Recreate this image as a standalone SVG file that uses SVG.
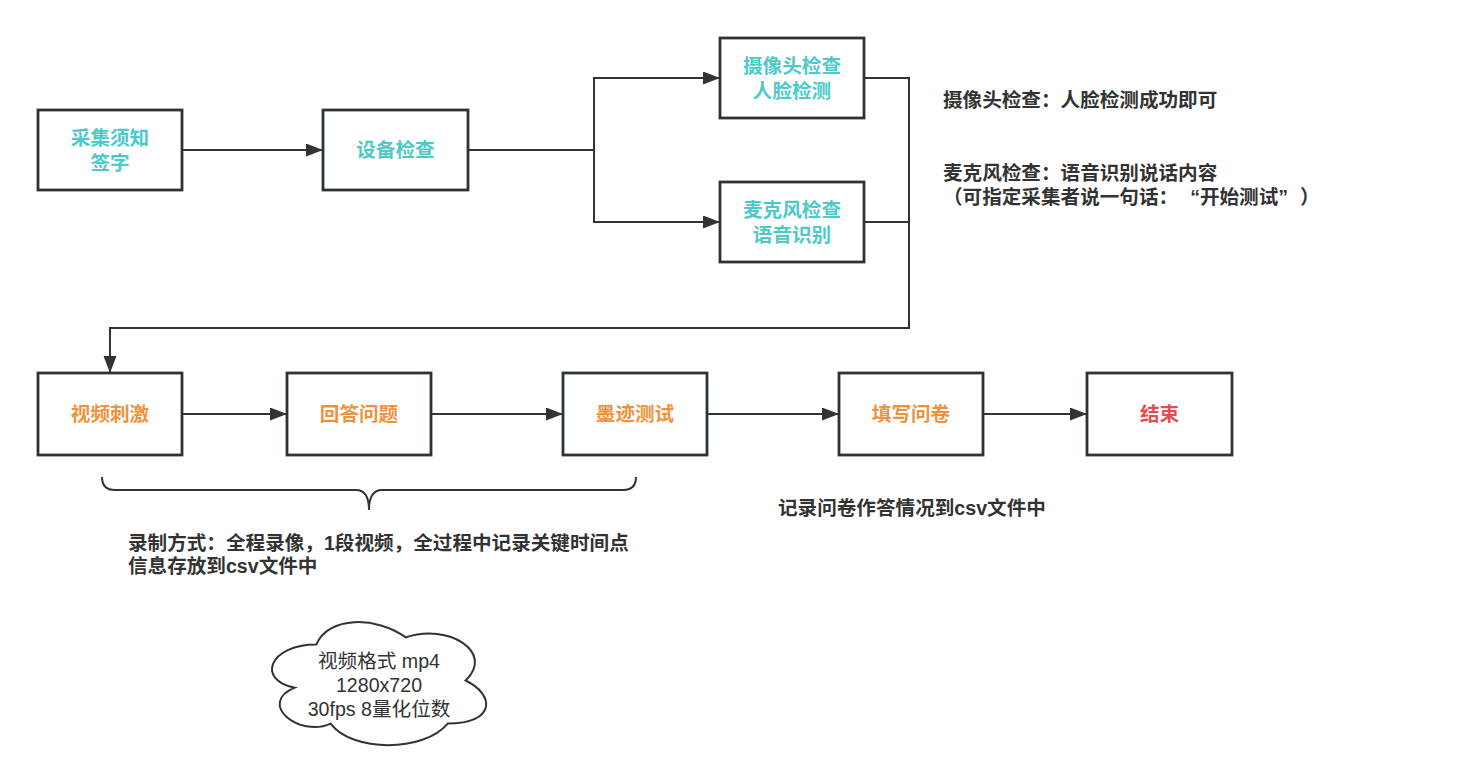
<svg xmlns="http://www.w3.org/2000/svg" width="1484" height="784" viewBox="0 0 1484 784">
  <style>
    .box { fill: #ffffff; stroke: #2e3336; stroke-width: 2.8; }
    .wire { fill: none; stroke: #333333; stroke-width: 2; }
    .lbl { font-family: "Liberation Sans", "Noto Sans CJK SC", sans-serif; font-size: 19.6px; font-weight: bold; text-anchor: middle; }
    .teal { fill: #4ec9c9; }
    .orange { fill: #f0923b; }
    .red { fill: #e84b4b; }
    .note { font-family: "Liberation Sans", "Noto Sans CJK SC", sans-serif; font-size: 19.6px; font-weight: bold; fill: #333333; }
    .cloudtxt { font-family: "Liberation Sans", "Noto Sans CJK SC", sans-serif; font-size: 19.6px; fill: #333333; text-anchor: middle; }
  </style>
  <defs>
    <marker id="arrow" markerUnits="userSpaceOnUse" markerWidth="18" markerHeight="14" refX="17" refY="6.5" orient="auto">
      <path d="M0,0 L17,6.5 L0,13 Z" fill="#333333"/>
    </marker>
  </defs>
  <rect width="1484" height="784" fill="#ffffff"/>

  <!-- connectors -->
  <g id="connectors">
    <path class="wire" d="M182,150 H323" marker-end="url(#arrow)"/>
    <path class="wire" d="M468,150 H594"/>
    <path class="wire" d="M594,150 V78 H720" marker-end="url(#arrow)"/>
    <path class="wire" d="M594,150 V222 H720" marker-end="url(#arrow)"/>
    <path class="wire" d="M864,222 H909"/>
    <path class="wire" d="M864,78 H909 V328 H110 V373" marker-end="url(#arrow)"/>
    <path class="wire" d="M182,414 H287" marker-end="url(#arrow)"/>
    <path class="wire" d="M431,414 H563" marker-end="url(#arrow)"/>
    <path class="wire" d="M707,414 H839" marker-end="url(#arrow)"/>
    <path class="wire" d="M983,414 H1087" marker-end="url(#arrow)"/>
  </g>

  <!-- step nodes -->
  <g id="node-notice">
    <rect class="box" x="38" y="110" width="144" height="80"/>
    <text class="lbl teal"><tspan x="110" y="144.5">采集须知</tspan><tspan x="110" y="169.5">签字</tspan></text>
  </g>
  <g id="node-device">
    <rect class="box" x="323" y="110" width="145" height="80"/>
    <text class="lbl teal" x="395.5" y="157">设备检查</text>
  </g>
  <g id="node-camera">
    <rect class="box" x="720" y="38" width="144" height="80"/>
    <text class="lbl teal"><tspan x="792" y="72.5">摄像头检查</tspan><tspan x="792" y="97.5">人脸检测</tspan></text>
  </g>
  <g id="node-mic">
    <rect class="box" x="720" y="182" width="144" height="80"/>
    <text class="lbl teal"><tspan x="792" y="216.5">麦克风检查</tspan><tspan x="792" y="241.5">语音识别</tspan></text>
  </g>
  <g id="node-video">
    <rect class="box" x="38" y="373" width="144" height="82"/>
    <text class="lbl orange" x="110" y="421">视频刺激</text>
  </g>
  <g id="node-answer">
    <rect class="box" x="287" y="373" width="144" height="82"/>
    <text class="lbl orange" x="359" y="421">回答问题</text>
  </g>
  <g id="node-ink">
    <rect class="box" x="563" y="373" width="144" height="82"/>
    <text class="lbl orange" x="635" y="421">墨迹测试</text>
  </g>
  <g id="node-survey">
    <rect class="box" x="839" y="373" width="144" height="82"/>
    <text class="lbl orange" x="911" y="421">填写问卷</text>
  </g>
  <g id="node-end">
    <rect class="box" x="1087" y="373" width="145" height="82"/>
    <text class="lbl red" x="1159.5" y="421">结束</text>
  </g>

  <!-- side notes -->
  <g id="note-camera">
    <text class="note" x="943" y="107">摄像头检查：人脸检测成功即可</text>
  </g>
  <g id="note-mic">
    <text class="note"><tspan x="943" y="180">麦克风检查：语音识别说话内容</tspan><tspan x="943" y="204">（可指定采集者说一句话：<tspan dx="12">“</tspan>开始测试”<tspan dx="12">）</tspan></tspan></text>
  </g>

  <!-- brace grouping the recorded steps -->
  <g id="brace">
    <path class="wire" d="M102,477 Q102,490 115,490 L356,490 Q369,490 369,510 Q369,490 382,490 L623,490 Q636,490 636,477"/>
  </g>
  <g id="note-recording">
    <text class="note"><tspan x="128" y="550">录制方式：全程录像，1段视频，全过程中记录关键时间点</tspan><tspan x="128" y="573">信息存放到csv文件中</tspan></text>
  </g>
  <g id="note-survey">
    <text class="note" x="778" y="515">记录问卷作答情况到csv文件中</text>
  </g>

  <!-- video format cloud -->
  <g id="cloud-format">
    <path fill="#ffffff" stroke="#333333" stroke-width="2" d="M316.25,644.6 C268.45,644.6 256.5,680.5 294.74,687.7 C256.5,703.5 299.52,737.9 330.59,723.6 C352.1,752.3 423.8,752.3 447.7,723.6 C495.5,723.6 495.5,694.9 465.63,680.5 C495.5,651.8 447.7,623.1 405.88,637.4 C376,615.9 328.2,615.9 316.25,644.6 Z"/>
    <text class="cloudtxt"><tspan x="379" y="668">视频格式 mp4</tspan><tspan x="379" y="692">1280x720</tspan><tspan x="379" y="716">30fps 8量化位数</tspan></text>
  </g>
</svg>
